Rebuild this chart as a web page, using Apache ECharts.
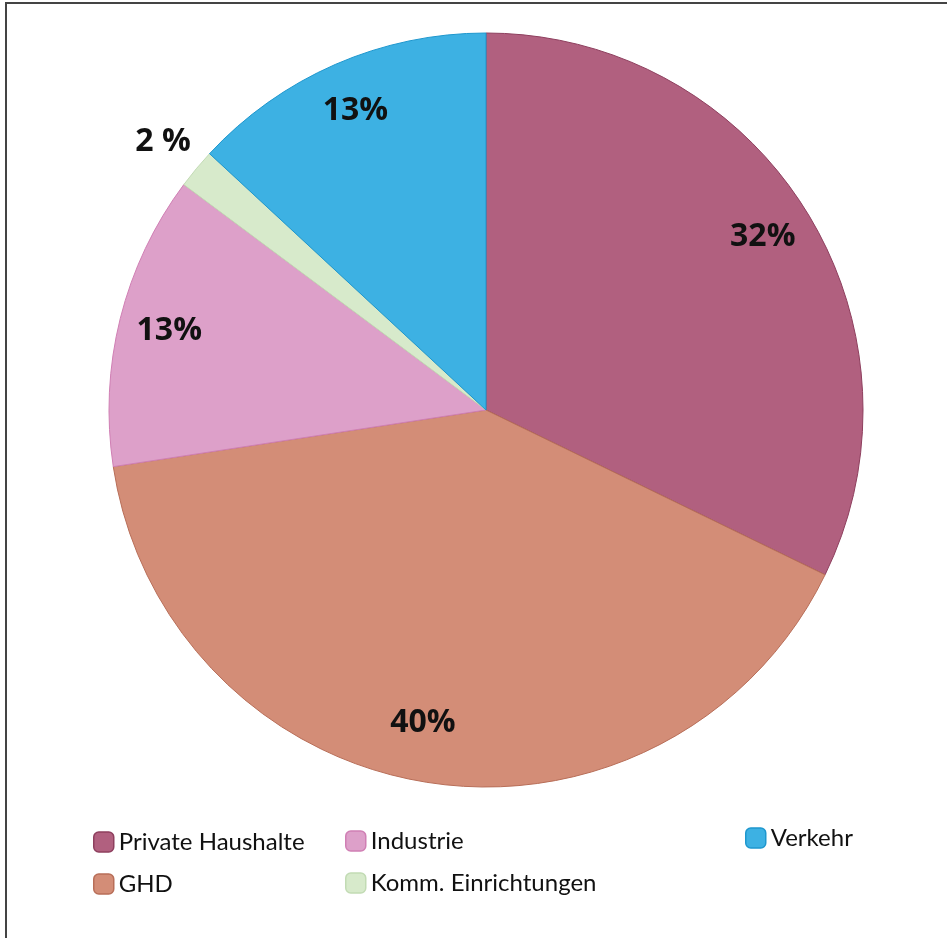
<!DOCTYPE html>
<html>
<head>
<meta charset="utf-8">
<script src="https://cdn.jsdelivr.net/npm/echarts@6/dist/echarts.min.js"></script>
<style>
  html, body { margin: 0; padding: 0; background: #fff; }
  #main { width: 947px; height: 938px; }
</style>
</head>
<body>
<div id="main"></div>
<script>
var mychart = echarts.init(document.getElementById("main"));

// clockwise from 12 o'clock, share in %
const names = ['Private Haushalte', 'GHD', 'Industrie', 'Komm. Einrichtungen', 'Verkehr'];
const shares = [32.2, 40.4, 12.6, 1.7, 13.1];
const colors = ['#B1607F', '#D38D77', '#DDA0C9', '#D7EACB', '#3DB1E3'];
const edges = ['#8E3F5E', '#B86E58', '#D07FB4', '#C2DBB4', '#1E97CE'];

const pieData = names.map(function (n, i) {
    return {
        name: n,
        value: shares[i],
        itemStyle: { color: colors[i], borderColor: edges[i] }
    };
});

// labels sit close to the rim, the tiny slice gets its label pushed outside
const labelData = names.map(function (n, i) {
    var d = { name: n, value: shares[i] };
    if (n === 'Komm. Einrichtungen') {
        d.label = { offset: [-72, -59], formatter: function (p) { return Math.round(p.value) + ' %'; } };
    }
    if (n === 'GHD') {
        d.label = { offset: [-14, -10] };
    }
    return d;
});

const legendFont = { fontFamily: 'Lato', fontSize: 24, color: '#111' };

function legendBox(items, left, top) {
    return {
        data: items,
        orient: 'vertical', left: left, top: top, padding: 0, itemGap: 18,
        itemWidth: 20, itemHeight: 20, icon: 'roundRect',
        textStyle: legendFont,
        itemStyle: { borderWidth: 1.5 }
    };
}

option = {
    backgroundColor: '#ffffff',
    animation: false,
    graphic: [
        { type: 'line', shape: { x1: 5, y1: 3, x2: 947, y2: 3 }, style: { stroke: '#444', lineWidth: 2 } },
        { type: 'line', shape: { x1: 6, y1: 3, x2: 6, y2: 938 }, style: { stroke: '#444', lineWidth: 2 } }
    ],
    legend: [
        legendBox(['Private Haushalte', 'GHD'], 93, 830),
        legendBox(['Industrie', 'Komm. Einrichtungen'], 345, 829),
        legendBox(['Verkehr'], 745, 826)
    ],
    series: [
        {
            type: 'pie',
            center: [486, 410],
            radius: [0, 377],
            startAngle: 90,
            clockwise: true,
            data: pieData,
            itemStyle: { borderWidth: 1 },
            label: { show: false },
            labelLine: { show: false },
            emphasis: { disabled: true }
        },
        {
            type: 'pie',
            center: [486, 410],
            radius: [270, 377],
            startAngle: 90,
            clockwise: true,
            silent: true,
            legendHoverLink: false,
            data: labelData,
            itemStyle: { color: 'rgba(0,0,0,0)' },
            label: {
                show: true,
                position: 'inside',
                fontFamily: 'Open Sans',
                fontWeight: 'bold',
                fontSize: 32,
                color: '#111',
                formatter: function (p) { return Math.round(p.value) + '%'; }
            },
            labelLine: { show: false },
            emphasis: { disabled: true }
        }
    ]
};
mychart.setOption(option, true);
</script>
</body>
</html>
